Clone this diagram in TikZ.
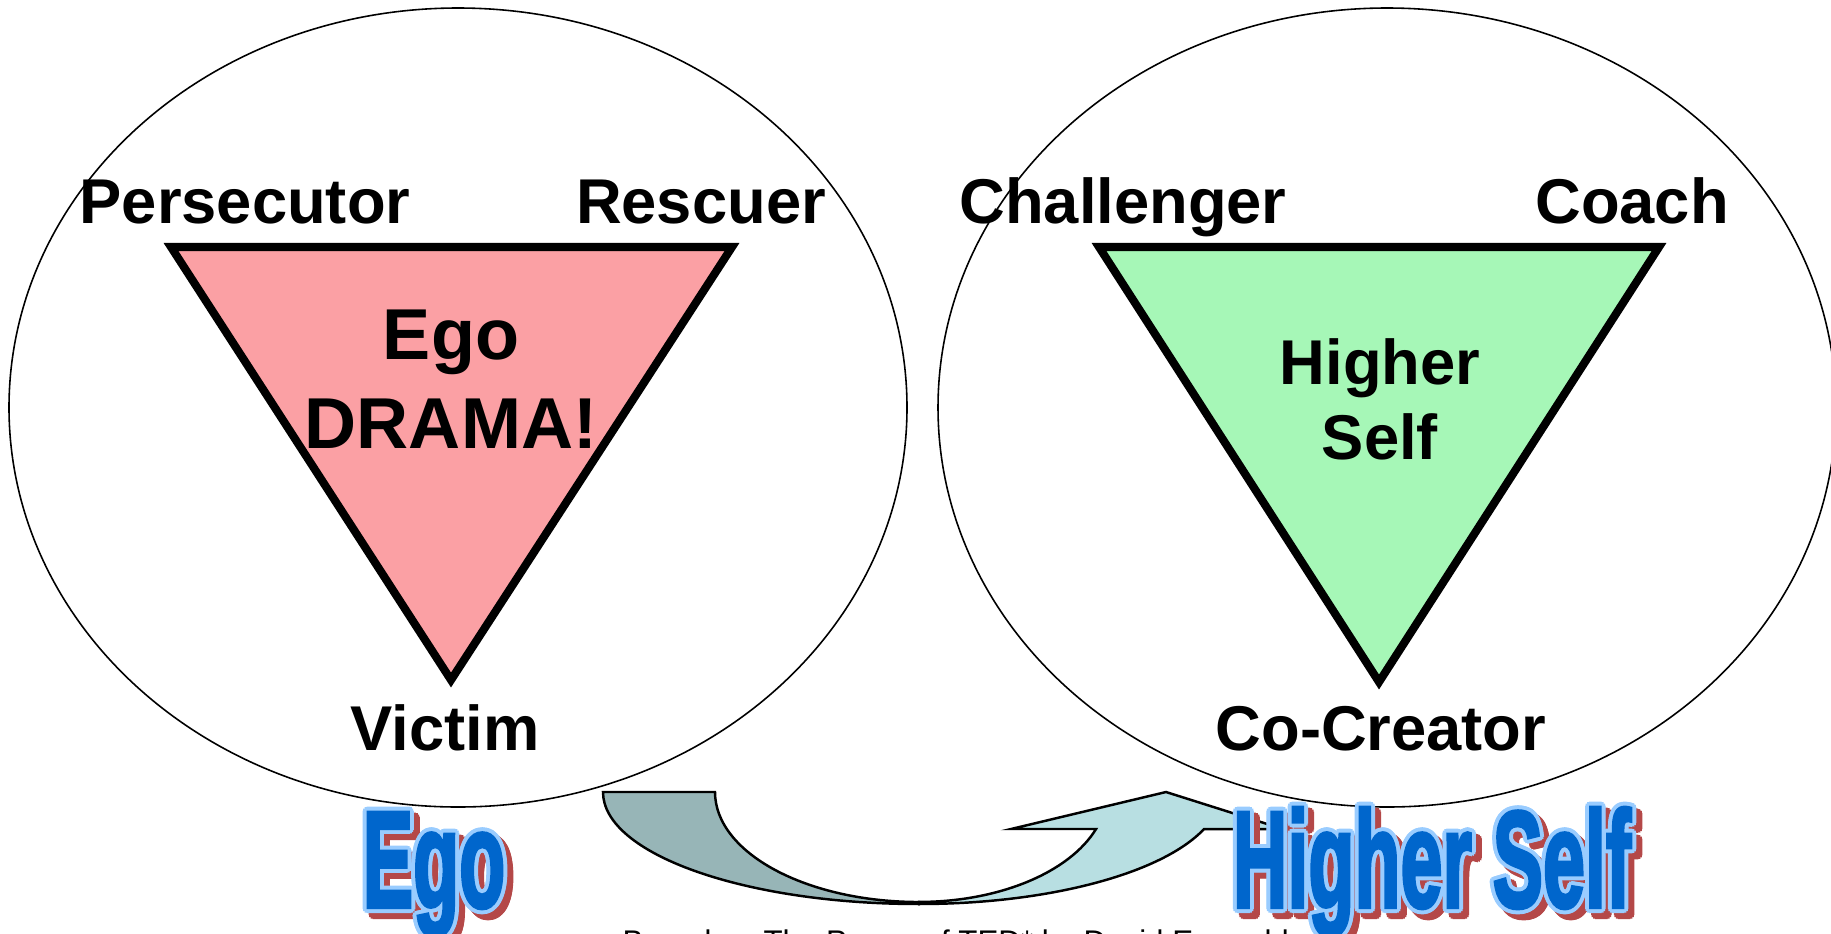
\documentclass[tikz,border=0pt]{standalone}
\usepackage{fontspec}
\usepackage{graphicx}
\setmainfont{Liberation Sans}
\newfontfamily\bigfont[BoldFeatures={FakeBold=3}]{Liberation Sans}
\usepackage{tikz}

\definecolor{dramapink}{RGB}{251,160,164}
\definecolor{selfgreen}{RGB}{166,247,183}
\definecolor{backteal}{RGB}{151,181,183}
\definecolor{frontblue}{RGB}{184,223,226}
\definecolor{wordblue}{RGB}{0,102,204}
\definecolor{wordline}{RGB}{153,204,255}
\definecolor{wordshade}{RGB}{180,72,72}

\newcommand{\bigword}[1]{\scalebox{0.55}[1]{\bigfont\bfseries\fontsize{39}{39}\selectfont #1}}

\tikzset{
  oval/.style={draw, line width=0.45pt},
  tri/.style={draw, line width=2.3pt, line join=miter},
  role/.style={font=\bfseries\fontsize{18}{21.6}\selectfont, anchor=base, inner sep=0pt},
  band/.style={draw, line width=0.7pt, line join=miter},
  word/.style={anchor=base, inner sep=0pt},
}

\begin{document}
\begin{tikzpicture}[x=0.01cm, y=0.01cm]
\useasboundingbox (0,0) rectangle (1831,-933);

% the two circles
\draw[oval] (458,-407.5) ellipse [x radius=449, y radius=399.5];
\draw[oval] (1387,-407.5) ellipse [x radius=449, y radius=399.5];

% triangles
\draw[tri, fill=dramapink] (171,-247) -- (732,-247) -- (451,-680) -- cycle;
\draw[tri, fill=selfgreen] (1099,-247) -- (1659,-247) -- (1379,-682) -- cycle;

\node[role] (pers) at (245,-223) {Persecutor};
\node[role] (resc) at (701,-223) {Rescuer};
\node[role] (vict) at (445,-750) {Victim};
\node[font=\bfseries\fontsize{20.5}{25.3}\selectfont, align=center, inner sep=0pt] (drama) at (451,-379) {Ego\\DRAMA!};

\node[role] (chal) at (1123,-223) {Challenger};
\node[role] (coach) at (1632,-223) {Coach};
\node[role] (cocr) at (1381,-750) {Co-Creator};
\node[font=\bfseries\fontsize{18}{21.3}\selectfont, align=center, inner sep=0pt] (higher) at (1380,-399) {Higher\\Self};

% curved arrow
\draw[band, fill=backteal] (603,-792) arc[start angle=180, end angle=270, x radius=316, y radius=112]
  -- (919,-902) arc[start angle=270, end angle=180, x radius=204, y radius=110] -- cycle;
\draw[band, fill=frontblue] (919,-904) arc[start angle=270, end angle=340.7, x radius=302, y radius=112]
  -- (1283,-829) -- (1166,-792) -- (1011,-829) -- (1096,-829)
  arc[start angle=340.3, end angle=270, x radius=188, y radius=110] -- cycle;

% big words
\foreach \a in {0,30,...,330} {
  \node[word, text=wordshade, shift={(\a:4)}] (egoshade\a) at (440,-913) {\bigword{Ego}};
  \node[word, text=wordshade, shift={(\a:4)}] (selfshade\a) at (1438,-913) {\bigword{Higher Self}};
}
\foreach \a in {0,30,...,330} {
  \node[word, text=wordline, shift={(\a:4)}] (egoline\a) at (434,-907) {\bigword{Ego}};
  \node[word, text=wordline, shift={(\a:4)}] (selfline\a) at (1432,-907) {\bigword{Higher Self}};
}
\node[word, text=wordblue] (ego) at (434,-907) {\bigword{Ego}};
\node[word, text=wordblue] (self) at (1432,-907) {\bigword{Higher Self}};

\node[anchor=north west, inner sep=0pt, font=\fontsize{8.9}{10}\selectfont] (credit) at (622,-929) {Based on The Power of TED* by David Emerald};
\end{tikzpicture}
\end{document}
